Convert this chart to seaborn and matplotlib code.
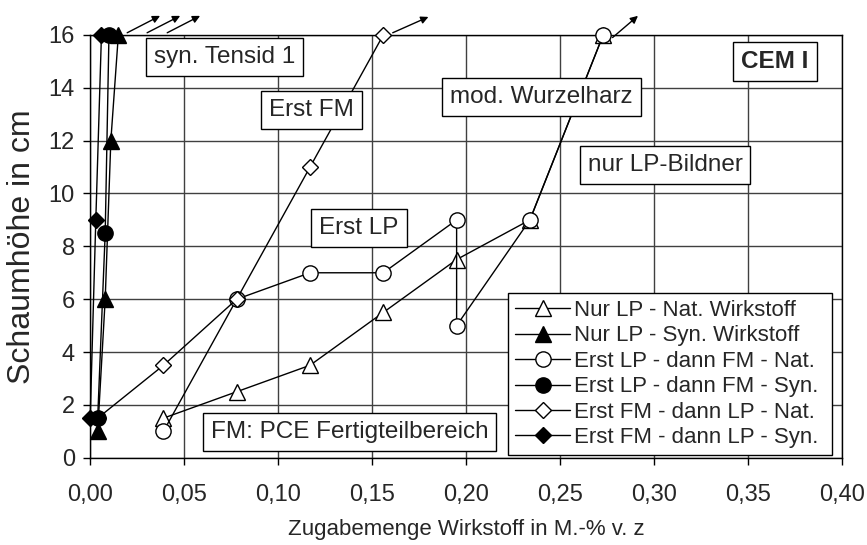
"""
Schaumhöhe vs. Zugabemenge Wirkstoff (CEM I)
"""
import pandas as pd
import matplotlib
matplotlib.use("Agg")
import matplotlib.pyplot as plt
from matplotlib.ticker import FuncFormatter, MultipleLocator
import seaborn as sns

# data
nur_lp_nat_x = [0.039, 0.078, 0.117, 0.156, 0.195, 0.234, 0.273]
nur_lp_nat_y = [1.5, 2.5, 3.5, 5.5, 7.5, 9.0, 16.0]

nur_lp_syn_x = [0.004, 0.008, 0.011, 0.015]
nur_lp_syn_y = [1.0, 6.0, 12.0, 16.0]

lp_fm_nat_x = [0.039, 0.078, 0.117, 0.156, 0.195, 0.195, 0.234, 0.273]
lp_fm_nat_y = [1.0, 6.0, 7.0, 7.0, 9.0, 5.0, 9.0, 16.0]

lp_fm_syn_x = [0.004, 0.008, 0.010]
lp_fm_syn_y = [1.5, 8.5, 16.0]

fm_lp_nat_x = [0.004, 0.039, 0.078, 0.117, 0.156]
fm_lp_nat_y = [1.5, 3.5, 6.0, 11.0, 16.0]

fm_lp_syn_x = [0.0, 0.003, 0.006]
fm_lp_syn_y = [1.5, 9.0, 16.0]

labels = ["Nur LP - Nat. Wirkstoff", "Nur LP - Syn. Wirkstoff",
          "Erst LP - dann FM - Nat.", "Erst LP - dann FM - Syn.",
          "Erst FM - dann LP - Nat.", "Erst FM - dann LP - Syn."]

sns.set_theme(style="ticks")
plt.rcParams['font.family'] = ['Liberation Sans', 'DejaVu Sans']

fig, ax = plt.subplots(figsize=(8.67, 5.45), dpi=100)
fig.subplots_adjust(left=0.104, right=0.971, top=0.936, bottom=0.16)

series = [
    (nur_lp_nat_x, nur_lp_nat_y, "^", "white", 11),
    (nur_lp_syn_x, nur_lp_syn_y, "^", "black", 11),
    (lp_fm_nat_x, lp_fm_nat_y, "o", "white", 11),
    (lp_fm_syn_x, lp_fm_syn_y, "o", "black", 11),
    (fm_lp_nat_x, fm_lp_nat_y, "D", "white", 8),
    (fm_lp_syn_x, fm_lp_syn_y, "D", "black", 8),
]

# open markers first, filled ones on top
draw_order = [0, 2, 4, 1, 3, 5]
for pos, i in enumerate(draw_order):
    xs, ys, mk, fc, ms = series[i]
    df = pd.DataFrame({"x": xs, "y": ys})
    sns.lineplot(data=df, x="x", y="y", ax=ax, sort=False, estimator=None,
                 color="black", lw=1, marker=mk, markersize=ms,
                 markerfacecolor=fc, markeredgecolor="black", markeredgewidth=1,
                 label=labels[i], clip_on=False, zorder=3 + pos * 0.01)

ax.set_xlim(0, 0.40)
ax.set_ylim(0, 16)
ax.xaxis.set_major_locator(MultipleLocator(0.05))
ax.yaxis.set_major_locator(MultipleLocator(2))
ax.xaxis.set_major_formatter(FuncFormatter(lambda v, p: f"{v:.2f}".replace(".", ",")))
ax.grid(True, color="#404040", lw=1)
for s in ax.spines.values():
    s.set_color("black")
    s.set_linewidth(1)
ax.tick_params(axis="both", direction="out", length=5, color="black", width=1)
ax.tick_params(axis="x", labelsize=17, pad=14)
ax.tick_params(axis="y", labelsize=17, pad=6)

ax.set_xlabel("Zugabemenge Wirkstoff in M.-% v. z", fontsize=16, labelpad=9)
ax.set_ylabel("Schaumhöhe in cm", fontsize=23, labelpad=8)

# arrows above the top edge
arrows = [((0.0197, 16.08), (0.0372, 16.72)),
          ((0.0303, 16.08), (0.0479, 16.72)),
          ((0.0410, 16.08), (0.0585, 16.72)),
          ((0.1610, 16.08), (0.1800, 16.68)),
          ((0.2780, 15.90), (0.2915, 16.72))]
for (x0, y0), (x1, y1) in arrows:
    ax.annotate("", xy=(x1, y1), xytext=(x0, y0), annotation_clip=False,
                arrowprops=dict(arrowstyle="-|>", color="black", lw=1,
                                mutation_scale=11, shrinkA=0, shrinkB=0))

box = dict(boxstyle="square,pad=0.33", fc="white", ec="black", lw=1)
notes = [("syn. Tensid 1", 0.0713, 15.16, "normal"),
         ("Erst FM", 0.1176, 13.16, "normal"),
         ("mod. Wurzelharz", 0.240, 13.65, "normal"),
         ("CEM I", 0.3644, 14.98, "bold"),
         ("nur LP-Bildner", 0.3059, 11.08, "normal"),
         ("Erst LP", 0.143, 8.70, "normal"),
         ("FM: PCE Fertigteilbereich", 0.138, 0.98, "normal")]
for txt, x, y, w in notes:
    ax.text(x, y, txt, ha="center", va="center", fontsize=17.5, fontweight=w,
            bbox=box, zorder=4)

handles, labs = ax.get_legend_handles_labels()
order = [labs.index(l) for l in labels]
leg = ax.legend([handles[k] for k in order], [labs[k] for k in order],
                loc="lower left", bbox_to_anchor=(0.556, 0.007, 0.431, 0.383),
                mode="expand", fontsize=16,
                frameon=True, fancybox=False, edgecolor="black", framealpha=1,
                handlelength=2.5, handletextpad=0.15, labelspacing=0.2,
                borderpad=0.3, borderaxespad=0)
leg.get_frame().set_linewidth(1)
leg.set_zorder(5)

plt.savefig("out.png", dpi=100)
